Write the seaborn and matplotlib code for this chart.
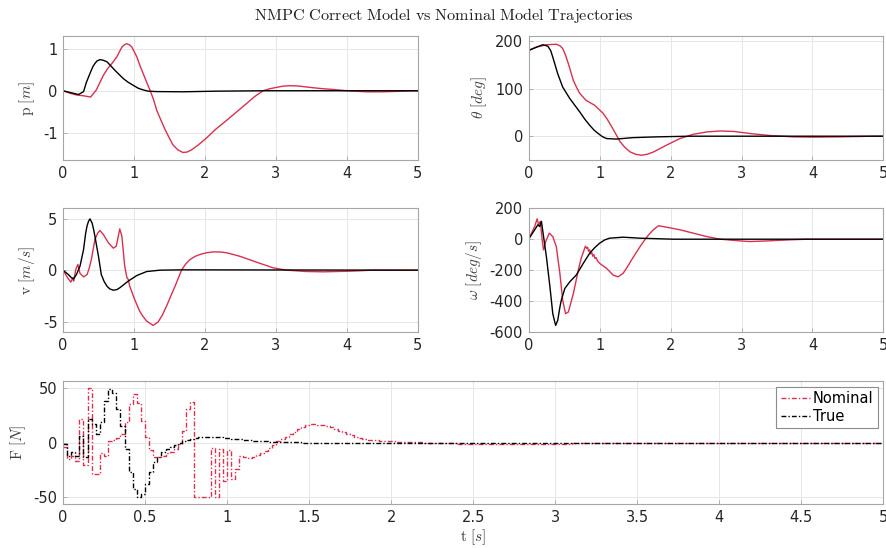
import numpy as np
import matplotlib
matplotlib.use("Agg")
import matplotlib.pyplot as plt
import seaborn as sns

# ---------------- data ----------------
# p [m]
p_t_nom = [0, 0.1, 0.19, 0.29, 0.39, 0.47, 0.57, 0.63, 0.69, 0.76, 0.83, 0.87, 0.9, 0.94, 0.97, 1.04, 1.08,
           1.13, 1.18, 1.23, 1.28, 1.32, 1.38, 1.44, 1.5, 1.55, 1.62, 1.69, 1.75, 1.81, 1.9, 2.02, 2.15,
           2.31, 2.45, 2.59, 2.7, 2.82, 2.92, 3.01, 3.1, 3.2, 3.3, 3.48, 3.65, 3.81, 4.0, 4.28, 4.51, 4.8, 5.0]
p_nom = [0, -0.06, -0.1, -0.12, -0.15, 0.02, 0.37, 0.53, 0.65, 0.81, 1.04, 1.1, 1.12, 1.09, 1.04, 0.81, 0.62,
         0.41, 0.2, 0, -0.23, -0.46, -0.7, -0.93, -1.13, -1.29, -1.41, -1.47, -1.46, -1.41, -1.3, -1.13, -0.92,
         -0.70, -0.5, -0.30, -0.14, 0, 0.05, 0.08, 0.11, 0.12, 0.115, 0.08, 0.05, 0.03, 0, -0.025, -0.025, -0.01, 0]
p_t_true = [0, 0.12, 0.22, 0.29, 0.33, 0.38, 0.42, 0.45, 0.48, 0.52, 0.56, 0.62, 0.67, 0.73, 0.79, 0.85,
            0.92, 0.99, 1.06, 1.13, 1.2, 1.32, 1.69, 2.16, 2.87, 5.0]
p_true = [0, -0.05, -0.09, -0.02, 0.2, 0.41, 0.57, 0.65, 0.71, 0.74, 0.73, 0.69, 0.6, 0.49, 0.39, 0.29,
          0.2, 0.13, 0.06, 0.02, -0.01, -0.02, -0.025, -0.01, 0, 0]

# theta [deg]
th_t_nom = [0, 0.11, 0.25, 0.39, 0.44, 0.48, 0.52, 0.56, 0.6, 0.63, 0.68, 0.72, 0.81, 0.93, 1.05, 1.11,
            1.17, 1.23, 1.29, 1.36, 1.43, 1.51, 1.59, 1.67, 1.76, 1.94, 2.13, 2.32, 2.51, 2.7, 2.89, 3.12,
            3.4, 3.73, 4.02, 4.39, 4.86, 5.0]
th_nom = [180, 187, 192, 193, 190, 184, 170, 152, 132, 117, 101, 90, 75, 65, 48, 35,
          20, 4, -12, -24, -33, -38, -40, -38, -33, -19, -5, 4, 9, 11, 10, 5.6,
          1.4, -1.4, -2, -1.4, 0, 0]
th_t_true = [0, 0.11, 0.2, 0.27, 0.31, 0.34, 0.38, 0.41, 0.48, 0.58, 0.65, 0.72, 0.79, 0.86, 0.92, 0.98,
             1.04, 1.1, 1.24, 1.47, 1.8, 2.27, 5.0]
th_true = [180, 187, 192, 189, 180, 166, 146, 131, 103, 79, 65, 51, 36, 23, 13, 5.6,
           -1, -5, -6, -3, -1.4, 0, 0]

# v [m/s]
v_t_nom = [0, 0.066, 0.11, 0.14, 0.15, 0.18, 0.21, 0.24, 0.29, 0.34, 0.37, 0.4, 0.43, 0.45, 0.49, 0.52, 0.57,
           0.64, 0.71, 0.75, 0.78, 0.8, 0.83, 0.87, 0.9, 0.92, 0.94, 0.97, 1.01, 1.08, 1.13, 1.18, 1.27, 1.34,
           1.4, 1.46, 1.52, 1.58, 1.67, 1.73, 1.79, 1.86, 1.93, 2.02, 2.12, 2.22, 2.31, 2.49, 2.73, 2.96, 3.15,
           3.43, 3.67, 4.04, 4.37, 5.0]
v_nom = [0, -0.74, -1.16, -0.74, -1.06, 0.06, 0.55, -0.32, -0.65, -0.42, 0.2, 1.03, 2.2, 2.97, 3.6, 3.84, 3.45,
         2.65, 2.13, 2.32, 3.29, 4.0, 3.29, 0.39, -0.7, -0.9, -1.55, -2.1, -2.84, -3.97, -4.5, -4.94, -5.35, -5.03,
         -4.35, -3.48, -2.5, -1.55, 0, 0.6, 1.03, 1.33, 1.52, 1.68, 1.77, 1.76, 1.68, 1.35, 0.77, 0.23, 0,
         -0.13, -0.16, -0.1, 0, 0]
v_t_true = [0, 0.075, 0.12, 0.15, 0.19, 0.24, 0.29, 0.32, 0.34, 0.36, 0.38, 0.41, 0.43, 0.45, 0.5, 0.54,
            0.58, 0.62, 0.66, 0.71, 0.76, 0.8, 0.92, 1.04, 1.18, 1.37, 1.69, 5.0]
v_true = [0, -0.42, -0.74, -0.84, -0.42, 0.39, 2.0, 3.6, 4.3, 4.74, 4.97, 4.58, 4.0, 3.29, 1.35, -0.42,
          -1.1, -1.55, -1.82, -1.94, -1.88, -1.71, -1.06, -0.52, -0.13, 0, 0.03, 0]

# omega [deg/s]
w_t_nom = [0, 0.085, 0.12, 0.14, 0.165, 0.19, 0.21, 0.24, 0.29, 0.34, 0.39, 0.44, 0.48, 0.52, 0.56,
           0.63, 0.7, 0.74, 0.8, 0.82, 0.83, 0.845, 0.86, 0.875, 0.89, 0.905, 0.92, 0.935, 0.95, 0.97,
           1.0, 1.1, 1.19, 1.26, 1.33, 1.39, 1.45, 1.51, 1.57, 1.63, 1.69, 1.76, 1.83, 1.94, 2.13, 2.32, 2.51,
           2.7, 2.98, 3.12, 3.36, 3.69, 3.92, 5.0]
w_nom = [0, 82, 132, 93, 115, -4, -69, -15, 39, 17, -48, -221, -394, -481, -470,
         -351, -199, -124, -45, -60, -52, -78, -68, -95, -86, -110, -100, -124, -118, -140,
         -156, -189, -232, -243, -221, -180, -134, -90, -48, -8, 28, 62, 87, 78, 61, 39, 17,
         0, -11, -15, -11, -4, 0, 0]
w_t_true = [0, 0.085, 0.13, 0.155, 0.18, 0.21, 0.25, 0.3, 0.34, 0.38, 0.41, 0.44, 0.46, 0.51, 0.58, 0.67,
            0.77, 0.86, 0.93, 1.0, 1.07, 1.14, 1.33, 1.57, 2.04, 5.0]
w_true = [0, 61, 93, 82, 115, 17, -113, -308, -481, -557, -524, -440, -394, -318, -275, -232,
          -156, -91, -55, -26, -5, 6.5, 13, 6.5, 0, 0]

# F [N]  (zero-order hold, 0.025 s samples, then a sparse tail)
F_dt = 0.025
F_nom_head = [-4, -15, -12, -17, 22, -21, 50, -29, -29, -10, -12, 1, 2, 4, 8, 19, 35, 44, 36, 20,
              5, -7, -13, -13, -12, -10, -9, -5.5, -1, 11, 31, 37, -50, -50, -50, -50, -5, -50, -6, -35,
              -7, -33, -24, -12, -13, -14, -13, -11.5, -10, -8, -5, -2, 1, 3, 5.5, 8, 10, 12.5, 14.5, 16,
              17, 17, 16.5, 16, 15, 14, 12.5, 11, 9.5, 8, 6.5, 5, 4, 3.2, 2.6, 2.2, 1.9, 1.7, 1.5, 1.3, 1.1]
F_nom_tail_t = [2.025, 2.1, 2.2, 2.3, 2.4, 2.5, 2.6, 2.7, 2.8, 2.9, 3.0, 3.1, 3.2, 3.3, 3.4, 3.5, 4.0, 4.5, 5.0]
F_nom_tail = [0.9, 0.5, 0, -0.6, -1.0, -1.3, -1.5, -1.6, -1.5, -1.4, -1.2, -0.9, -0.6, -0.4, -0.2, 0, 0, 0, 0]

F_true_head = [-1, -12, -9, -12, 6, -13, 22, 17, 8, 19, 38, 49, 45, 31, 15, -6, -27, -43, -50, -47,
               -38, -27, -18, -13, -9, -6, -4, -2, -0.5, 1, 2.3, 3.5, 4.4, 5, 5.3, 5.4, 5.3, 5.1, 4.8, 4.4,
               4.0, 3.6, 3.2, 2.8, 2.4, 2.1, 1.8, 1.5, 1.2, 1.0, 0.8, 0.6, 0.45, 0.35, 0.25, 0.15, 0.1, 0.05]
F_true_tail_t = [1.45, 2.0, 3.0, 4.0, 5.0]
F_true_tail = [0, 0, 0, 0, 0]

x_ticks_top = [0, 1, 2, 3, 4, 5]
x_ticks_bottom = [0, 0.5, 1, 1.5, 2, 2.5, 3, 3.5, 4, 4.5, 5]
x_ticklabels_bottom = ["0", "0.5", "1", "1.5", "2", "2.5", "3", "3.5", "4", "4.5", "5"]

# ---------------- style ----------------
sns.set_theme(style="whitegrid")
plt.rcParams["font.family"] = ["DejaVu Sans"]
plt.rcParams["mathtext.fontset"] = "cm"
plt.rcParams["axes.unicode_minus"] = False

RED = "#d8304f"
BLACK = "#000000"
SPINE = "#a6a6a6"
GRID = "#e6e6e6"
TXT = "#262626"

fig = plt.figure(figsize=(8.87, 5.48), dpi=100)


def style(ax, ylim, yticks, ylabel, xticks, xticklabels=None):
    ax.set_facecolor("white")
    ax.set_xlim(0, 5)
    ax.set_ylim(*ylim)
    ax.set_yticks(yticks)
    ax.set_xticks(xticks)
    if xticklabels is not None:
        ax.set_xticklabels(xticklabels)
    ax.grid(True, color=GRID, linewidth=0.7)
    ax.set_axisbelow(True)
    for s in ax.spines.values():
        s.set_visible(True)
        s.set_color(SPINE)
        s.set_linewidth(0.8)
    ax.tick_params(axis="both", direction="in", length=3, width=0.6, color=SPINE,
                   labelsize=10.5, labelcolor=TXT, pad=4, top=False, right=False,
                   bottom=True, left=True)
    ax.set_ylabel(ylabel, fontsize=11, color="#404040", labelpad=4)
    ax.set_xlabel("")


def line(ax, t, y, color):
    sns.lineplot(x=t, y=y, ax=ax, color=color, linewidth=1.0, estimator=None, sort=False)


ax_p = fig.add_axes([0.071, 0.708, 0.400, 0.226])
line(ax_p, p_t_nom, p_nom, RED)
line(ax_p, p_t_true, p_true, BLACK)
style(ax_p, (-1.65, 1.3), [-1, 0, 1], r"$\mathrm{p}\ [m]$", x_ticks_top)

ax_th = fig.add_axes([0.596, 0.708, 0.400, 0.226])
line(ax_th, th_t_nom, th_nom, RED)
line(ax_th, th_t_true, th_true, BLACK)
style(ax_th, (-50, 210), [0, 100, 200], r"$\theta\ [deg]$", x_ticks_top)

ax_v = fig.add_axes([0.071, 0.394, 0.400, 0.226])
line(ax_v, v_t_nom, v_nom, RED)
line(ax_v, v_t_true, v_true, BLACK)
style(ax_v, (-6, 6), [-5, 0, 5], r"$\mathrm{v}\ [m/s]$", x_ticks_top)

ax_w = fig.add_axes([0.596, 0.394, 0.400, 0.226])
line(ax_w, w_t_nom, w_nom, RED)
line(ax_w, w_t_true, w_true, BLACK)
style(ax_w, (-600, 200), [-600, -400, -200, 0, 200], r"$\omega\ [deg/s]$", x_ticks_top)

ax_F = fig.add_axes([0.071, 0.080, 0.925, 0.225])
t_nom = list(np.arange(len(F_nom_head)) * F_dt) + F_nom_tail_t
F_nom = F_nom_head + F_nom_tail
t_true = list(np.arange(len(F_true_head)) * F_dt) + F_true_tail_t
F_true = F_true_head + F_true_tail
sns.lineplot(x=t_nom, y=F_nom, ax=ax_F, color=RED, linewidth=1.0, dashes=False,
             drawstyle="steps-post", estimator=None, sort=False, label="Nominal")
sns.lineplot(x=t_true, y=F_true, ax=ax_F, color=BLACK, linewidth=1.0, dashes=False,
             drawstyle="steps-post", estimator=None, sort=False, label="True")
for ln in ax_F.get_lines():
    ln.set_dashes([3.5, 1.5, 1.0, 1.5])
style(ax_F, (-56.5, 56.5), [-50, 0, 50], r"$\mathrm{F}\ [N]$", x_ticks_bottom, x_ticklabels_bottom)
ax_F.set_xlabel(r"$\mathrm{t}\ [s]$", fontsize=11, color="#404040", labelpad=2)
leg = ax_F.legend(loc="upper right", fontsize=10.5, frameon=True, fancybox=False, framealpha=1,
                  handlelength=2.0, handletextpad=0.2, borderpad=0.3, labelspacing=0.2,
                  borderaxespad=0.4)
leg.get_frame().set_edgecolor("#8c8c8c")
leg.get_frame().set_linewidth(0.8)
for txt in leg.get_texts():
    txt.set_color("black")
for h in leg.get_lines():
    h.set_dashes([3.5, 1.5, 1.0, 1.5])

fig.text(0.5, 0.972, r"$\mathrm{NMPC\ Correct\ Model\ vs\ Nominal\ Model\ Trajectories}$",
         ha="center", va="center", fontsize=11.7, color="#202020")

fig.savefig("out.png", dpi=100)
